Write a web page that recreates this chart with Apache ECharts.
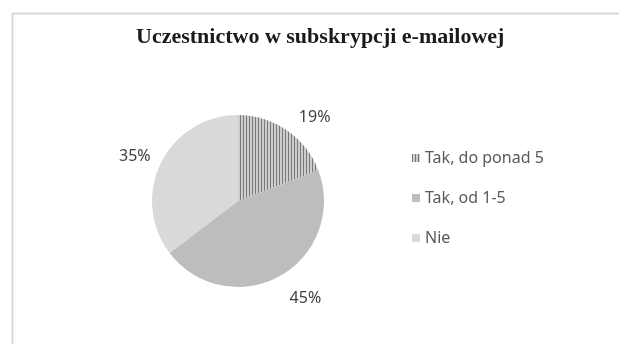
<!DOCTYPE html>
<html>
<head>
<meta charset="utf-8">
<script src="https://cdn.jsdelivr.net/npm/echarts@6/dist/echarts.min.js"></script>
<style>
  html, body { margin: 0; padding: 0; background: #ffffff; }
  #chart { width: 619px; height: 344px; }
</style>
</head>
<body>
<div id="chart"></div>
<script>
// Survey answers and their shares (percent)
const categories = ['Tak, do ponad 5', 'Tak, od 1-5', 'Nie'];
const shares = [19, 45, 35];
const sliceColors = ['#cdcdcd', '#bdbdbd', '#dadada'];

const chartTitle = 'Uczestnictwo w subskrypcji e-mailowej';

// Fill textures: vertical hatching for the first slice, fine dots for the last
const decals = [
  { symbol: 'rect', symbolSize: 1, dashArrayX: [1, 2], dashArrayY: [4, 0], color: 'rgba(100,100,100,0.8)' },
  null,
  { symbol: 'rect', symbolSize: 1, dashArrayX: [1, 2], dashArrayY: [1, 2], color: 'rgba(205,205,205,0.5)' }
];

// Small nudges that keep the percentage labels clear of the pie edge
const labelNudges = [
  { dx: 0, dy: 0 },
  { dx: -1, dy: 8 },
  { dx: 7, dy: 1 }
];

const pieData = categories.map((name, i) => {
  const item = { name: name, value: shares[i], itemStyle: { color: sliceColors[i] } };
  if (decals[i]) item.itemStyle.decal = decals[i];
  return item;
});

const chart = echarts.init(document.getElementById('chart'), null, { renderer: 'canvas' });

chart.setOption({
  backgroundColor: '#ffffff',
  animation: false,
  title: {
    text: chartTitle,
    left: 136,
    top: 26,
    padding: 0,
    textStyle: {
      fontFamily: '"Liberation Serif", "DejaVu Serif", serif',
      fontWeight: 'bold',
      fontSize: 22,
      color: '#1a1a1a'
    }
  },
  legend: {
    orient: 'vertical',
    left: 412,
    top: 149,
    padding: 0,
    icon: 'rect',
    itemWidth: 8,
    itemHeight: 8,
    itemGap: 22,
    selectedMode: false,
    data: categories,
    textStyle: {
      fontFamily: '"Noto Sans", "Open Sans", sans-serif',
      fontSize: 16,
      lineHeight: 18,
      color: '#595959'
    }
  },
  graphic: [{
    type: 'rect',
    left: 10,
    top: 11,
    shape: { width: 700, height: 500 },
    style: { fill: 'none', stroke: '#d9d9d9', lineWidth: 2 },
    silent: true
  }],
  series: [
    {
      type: 'pie',
      center: [238, 201],
      radius: 86,
      startAngle: 90,
      clockwise: true,
      label: {
        show: true,
        position: 'outside',
        formatter: '{c}%',
        distanceToLabelLine: 3,
        fontFamily: '"Noto Sans", "Open Sans", sans-serif',
        fontSize: 16,
        color: '#404040'
      },
      labelLine: { show: false, length: 16, length2: 0 },
      labelLayout: function (params) {
        return labelNudges[params.dataIndex];
      },
      emphasis: { disabled: true },
      data: pieData
    }
  ]
});
</script>
</body>
</html>
